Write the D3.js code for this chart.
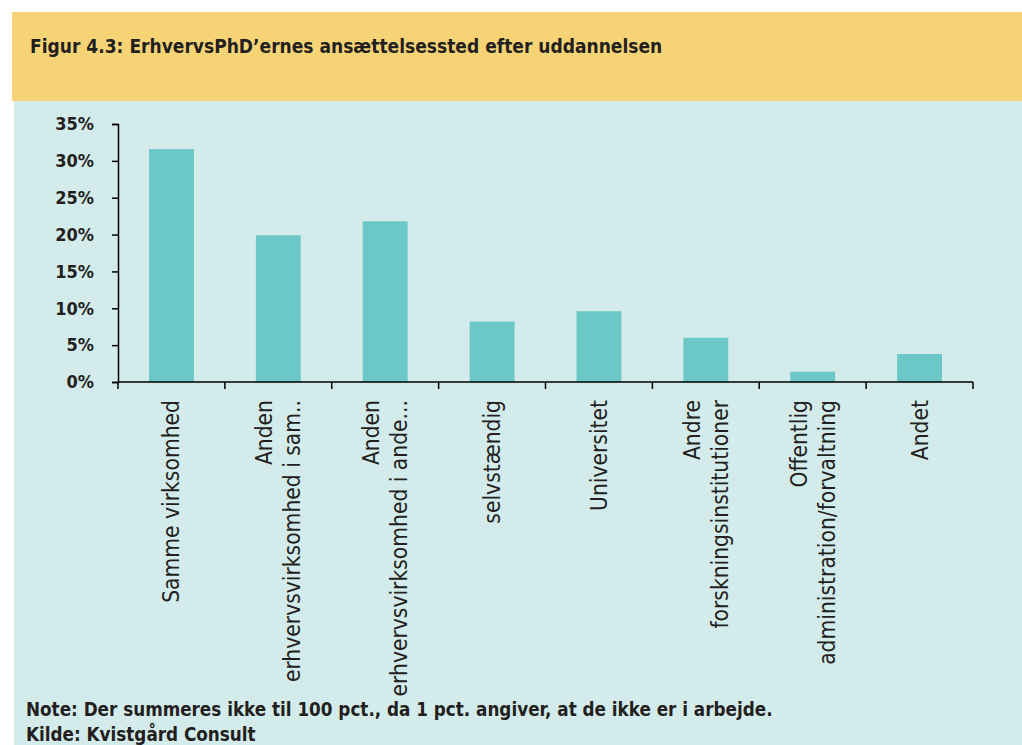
<!DOCTYPE html>
<html>
<head>
<meta charset="utf-8">
<script src="https://cdn.jsdelivr.net/npm/d3@7"></script>
<style>
  body { margin: 0; background: #fff; }
  svg text { font-family: "DejaVu Sans Condensed", "DejaVu Sans", sans-serif; font-stretch: condensed; fill: #231f20; }
</style>
</head>
<body>
<div id="chart"></div>
<script>
const categories = [
  ['Samme virksomhed'],
  ['Anden', 'erhvervsvirksomhed i sam..'],
  ['Anden', 'erhvervsvirksomhed i ande...'],
  ['selvstændig'],
  ['Universitet'],
  ['Andre', 'forskningsinstitutioner'],
  ['Offentlig', 'administration/forvaltning'],
  ['Andet']
];
const values = [31.6, 19.9, 21.8, 8.2, 9.6, 6.0, 1.4, 3.8];
const yTicks = [0, 5, 10, 15, 20, 25, 30, 35];
const title = 'Figur 4.3: ErhvervsPhD\u2019ernes ansættelsessted efter uddannelsen';
const notes = ['Note: Der summeres ikke til 100 pct., da 1 pct. angiver, at de ikke er i arbejde.', 'Kilde: Kvistgård Consult'];

const W = 1022, H = 745;
const margin = { top: 124, left: 118, right: 49, bottom: 363 };
const width = W - margin.left - margin.right;
const height = H - margin.top - margin.bottom;

const svg = d3.select('#chart')
  .append('svg')
  .attr('width', W)
  .attr('height', H);

// panels
svg.append('rect').attr('x', 14).attr('y', 100).attr('width', W - 14).attr('height', H - 100).attr('fill', '#d3eceb');
svg.append('rect').attr('x', 12).attr('y', 12).attr('width', W - 12).attr('height', 89).attr('fill', '#f6d476');

svg.append('text')
  .attr('x', 30).attr('y', 53)
  .attr('font-size', 19).attr('font-weight', 'bold')
  .text(title);

const g = svg.append('g').attr('transform', `translate(${margin.left},${margin.top})`);

const x = d3.scaleBand().domain(d3.range(categories.length)).range([0, width]).paddingInner(0.58).paddingOuter(0.29);
const y = d3.scaleLinear().domain([0, 35]).range([height, 0]);

g.selectAll('rect.bar')
  .data(values)
  .enter()
  .append('rect')
  .attr('class', 'bar')
  .attr('x', (d, i) => x(i))
  .attr('y', d => y(d))
  .attr('width', x.bandwidth())
  .attr('height', d => height - y(d))
  .attr('fill', '#6cc8c6');

// y axis
const yAxis = g.append('g')
  .call(d3.axisLeft(y).tickValues(yTicks).tickFormat(d => d + '%').tickSize(6).tickPadding(18));
yAxis.selectAll('path, line').attr('stroke', '#000').attr('stroke-width', 1.5);
yAxis.selectAll('text').attr('font-size', 18).attr('font-weight', 'bold').attr('fill', '#231f20').style('font-family', null);

// x axis: ticks on band edges
const edges = d3.range(categories.length + 1).map(i => i * width / categories.length);
const xg = g.append('g').attr('transform', `translate(0,${height})`);
xg.append('line').attr('x1', 0).attr('x2', width).attr('stroke', '#000').attr('stroke-width', 1.5);
xg.selectAll('line.tick')
  .data(edges)
  .enter()
  .append('line')
  .attr('class', 'tick')
  .attr('x1', d => d).attr('x2', d => d)
  .attr('y1', 0).attr('y2', 7)
  .attr('stroke', '#000').attr('stroke-width', 1.5);

const labels = xg.selectAll('g.lab')
  .data(categories)
  .enter()
  .append('g')
  .attr('class', 'lab')
  .attr('transform', (d, i) => `translate(${x(i) + x.bandwidth() / 2},18) rotate(-90)`);

labels.each(function (lines) {
  const n = lines.length;
  lines.forEach((t, j) => {
    d3.select(this).append('text')
      .attr('text-anchor', 'end')
      .attr('x', 0)
      .attr('y', (j - (n - 1) / 2) * 28 + 8)
      .attr('font-size', 22.6)
      .text(t);
  });
});

notes.forEach((t, i) => {
  svg.append('text')
    .attr('x', 26).attr('y', 716 + i * 25)
    .attr('font-size', 18.7).attr('font-weight', 'bold')
    .text(t);
});
</script>
</body>
</html>
